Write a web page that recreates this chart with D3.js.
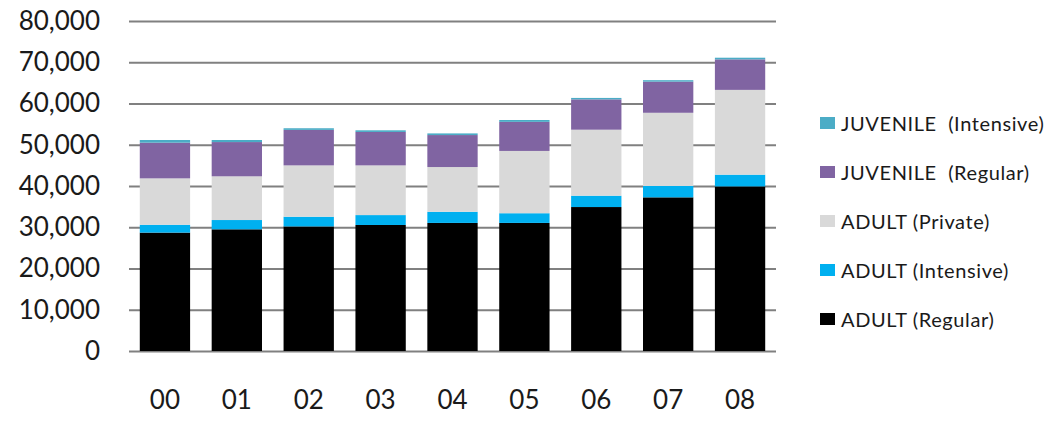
<!DOCTYPE html>
<html>
<head>
<meta charset="utf-8">
<script src="https://cdn.jsdelivr.net/npm/d3@7"></script>
<style>
  body { margin: 0; background: #fff; }
  text { font-family: Lato, "Open Sans", sans-serif; }
</style>
</head>
<body>
<div id="barchart"></div>
<script>
// categories (years) and series, bottom of the stack first
var years = ["00", "01", "02", "03", "04", "05", "06", "07", "08"];
var seriesNames = ["ADULT (Regular)", "ADULT (Intensive)", "ADULT (Private)", "JUVENILE  (Regular)", "JUVENILE  (Intensive)"];
var seriesColors = ["#000000", "#00b0f0", "#d9d9d9", "#8064a2", "#4bacc6"];

var adultRegular    = [28700, 29500, 30200, 30550, 31050, 31050, 34900, 37250, 39900];
var adultIntensive  = [1900, 2250, 2350, 2400, 2700, 2350, 2750, 2750, 2850];
var adultPrivate    = [11250, 10600, 12450, 12050, 10850, 15100, 16000, 17750, 20550];
var juvenileRegular = [8650, 8300, 8600, 8100, 7750, 7050, 7350, 7550, 7400];
var juvenileIntens  = [650, 500, 400, 400, 400, 450, 350, 350, 400];

var yTicks = [0, 10000, 20000, 30000, 40000, 50000, 60000, 70000, 80000];

// build rows for d3.stack
var seriesValues = [adultRegular, adultIntensive, adultPrivate, juvenileRegular, juvenileIntens];
var data = years.map(function(y, i) {
  var row = {year: y};
  seriesNames.forEach(function(s, j) { row[s] = seriesValues[j][i]; });
  return row;
});

// set the dimensions and margins of the graph
var margin = {top: 21, right: 285, bottom: 72, left: 129},
    width = 1061 - margin.left - margin.right,
    height = 423 - margin.top - margin.bottom;

var x = d3.scaleBand()
    .domain(years)
    .range([0, width])
    .paddingInner(0.3)
    .paddingOuter(0.15);

var y = d3.scaleLinear()
    .domain([0, 80000])
    .range([height, 0]);

var svg = d3.select("#barchart").append("svg")
    .attr("width", 1061)
    .attr("height", 423)
  .append("g")
    .attr("transform", "translate(" + margin.left + "," + margin.top + ")");

// gridlines + y labels
var yAxis = svg.append("g")
    .call(d3.axisLeft(y).tickValues(yTicks).tickSize(-width).tickPadding(29).tickFormat(d3.format(",")));
yAxis.select(".domain").remove();
yAxis.selectAll(".tick line").attr("stroke", "#808080").attr("stroke-width", 2);
yAxis.selectAll(".tick text")
    .attr("fill", "#1a1a1a")
    .style("font-size", "26px");

// stacked bars
var stack = d3.stack().keys(seriesNames);
var layers = stack(data);

svg.selectAll(".layer")
    .data(layers)
  .enter().append("g")
    .attr("class", "layer")
    .attr("fill", function(d, i) { return seriesColors[i]; })
  .selectAll("rect")
    .data(function(d) { return d; })
  .enter().append("rect")
    .attr("x", function(d) { return x(d.data.year); })
    .attr("width", x.bandwidth())
    .attr("y", function(d) { return y(d[1]); })
    .attr("height", function(d) { return y(d[0]) - y(d[1]); });

// x axis labels (no line)
var xAxis = svg.append("g")
    .attr("transform", "translate(0," + height + ")")
    .call(d3.axisBottom(x).tickSize(0).tickPadding(40));
xAxis.select(".domain").remove();
xAxis.selectAll("text")
    .attr("fill", "#1a1a1a")
    .style("font-size", "26px");

// legend, top entry is the top of the stack
var legend = svg.append("g")
    .attr("transform", "translate(" + (820 - margin.left) + "," + (124 - margin.top) + ")");

var legendItems = legend.selectAll(".legend")
    .data(seriesNames.slice().reverse())
  .enter().append("g")
    .attr("class", "legend")
    .attr("transform", function(d, i) { return "translate(0," + (i * 49) + ")"; });

legendItems.append("rect")
    .attr("x", 0)
    .attr("y", -7)
    .attr("width", 15)
    .attr("height", 12)
    .attr("fill", function(d) { return seriesColors[seriesNames.indexOf(d)]; });

legendItems.append("text")
    .attr("x", 21)
    .attr("y", 0)
    .attr("dy", "0.35em")
    .attr("fill", "#1a1a1a")
    .style("font-size", "20px")
    .style("letter-spacing", "0.6px")
    .style("white-space", "pre")
    .text(function(d) { return d; });
</script>
</body>
</html>
